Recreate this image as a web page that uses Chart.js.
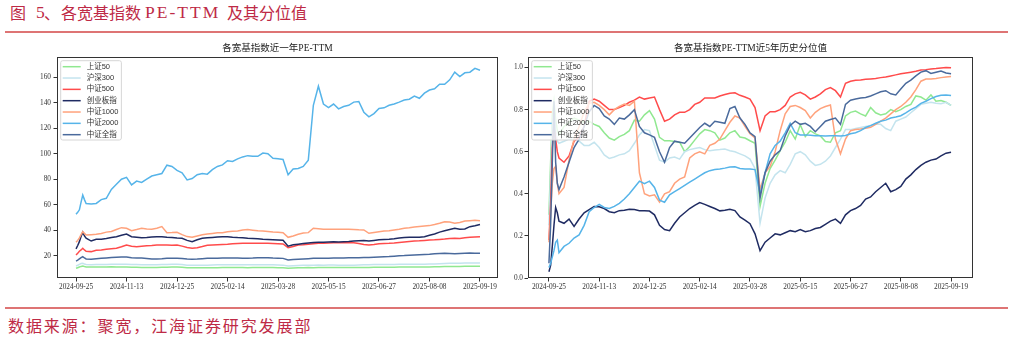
<!DOCTYPE html>
<html>
<head>
<meta charset="utf-8">
<script src="https://cdn.jsdelivr.net/npm/chart.js@4.4.1/dist/chart.umd.min.js"></script>
<style>
  body { margin: 0; background: #fff; width: 1013px; height: 339px; position: relative; overflow: hidden; }
  .hd span { position: absolute; top: 2px; line-height: 20px; font-size: 16px; color: #be2a46;
             font-family: "Noto Sans CJK SC", sans-serif; white-space: pre; }
  .hd .lat { font-family: "Liberation Serif", serif; font-size: 17.5px; letter-spacing: 2px; }
  .rule { position: absolute; left: 5px; width: 1003px; height: 2px; background: #de7474; }
  .box { position: absolute; top: 36px; height: 262px; }
  #src { position: absolute; left: 8px; top: 315px; line-height: 20px; font-size: 16px; letter-spacing: 1.9px;
         color: #be2a46; font-family: "Noto Sans CJK SC", sans-serif; white-space: pre; }
</style>
</head>
<body>
<div class="hd">
  <span style="left:10px">图</span><span class="lat" style="left:36px">5</span><span style="left:44px">、</span>
  <span style="left:61px">各宽基指数</span><span class="lat" style="left:145px">PE-TTM</span><span style="left:227px">及其分位值</span>
</div>
<div class="rule" style="top:31px"></div>
<div class="box" style="left:0;width:505px"><canvas id="peChart"></canvas></div>
<div class="box" style="left:505px;width:508px"><canvas id="pctChart"></canvas></div>
<div class="rule" style="top:307px"></div>
<div id="src">数据来源：聚宽，江海证券研究发展部</div>

<script>
const seriesNames = ['上证50', '沪深300', '中证500', '创业板指', '中证1000', '中证2000', '中证全指'];
const seriesColors = ['#90e890', '#c4e4ee', '#ff4b4b', '#1f2b62', '#ffa27c', '#56b4e9', '#4a6a9c'];

// trading-day index of each tick and its date label
const tickIdx = [0, 30, 60, 90, 120, 150, 180, 210, 240];
const tickDates = ['2024-09-25', '2024-11-13', '2024-12-25', '2025-02-14', '2025-03-28',
                   '2025-05-15', '2025-06-27', '2025-08-08', '2025-09-19'];

// trading-day index of each sample
const dayIdx = [0, 1, 2, 3, 4, 5, 6,
  9, 12, 15, 18, 21, 24, 27, 30, 33, 36,
  39, 42, 45, 48, 51, 54, 57, 60, 63, 66,
  69, 72, 75, 78, 81, 84, 87, 90, 93, 96,
  99, 102, 105, 108, 111, 114, 117, 120, 123, 126,
  129, 132, 135, 138, 141, 144, 147, 150, 153, 156,
  159, 162, 165, 168, 171, 174, 177, 180, 183, 186,
  189, 192, 195, 198, 201, 204, 207, 210, 213, 216,
  219, 222, 225, 228, 231, 234, 237, 240];

// PE-TTM, last year
const peSz50 = [10.1, 10.6, 11.1, 11.6, 11.9, 11.5, 11.2,
  11.1, 11.1, 11.2, 11.2, 11.3, 11.2, 11.2, 11.1, 10.9, 10.9,
  10.8, 10.7, 10.7, 10.8, 10.9, 11.0, 11.1, 11.1, 10.9, 10.6,
  10.5, 10.5, 10.5, 10.5, 10.5, 10.6, 10.7, 10.7, 10.8, 10.7,
  10.7, 10.6, 10.7, 10.8, 10.8, 10.7, 10.7, 10.6, 10.6, 10.1,
  10.4, 10.5, 10.6, 10.7, 10.6, 10.7, 10.7, 10.8, 10.7, 10.8,
  10.8, 10.7, 10.7, 10.7, 10.8, 10.8, 11.0, 11.0, 11.0, 11.0,
  11.0, 11.1, 11.1, 11.1, 11.1, 11.1, 11.2, 11.2, 11.3, 11.4,
  11.6, 11.6, 11.5, 11.6, 11.7, 11.8, 11.8, 11.8];
const peHs300 = [11.9, 12.5, 13.2, 13.8, 14.0, 13.5, 13.1,
  12.9, 13.0, 13.0, 13.1, 13.2, 13.2, 13.3, 13.3, 13.0, 13.0,
  12.9, 12.8, 12.8, 12.9, 13.0, 13.1, 13.2, 13.2, 13.0, 12.6,
  12.5, 12.5, 12.6, 12.6, 12.7, 12.8, 12.8, 12.9, 12.9, 12.9,
  12.8, 12.8, 12.9, 12.9, 12.9, 12.8, 12.8, 12.7, 12.6, 11.9,
  12.2, 12.4, 12.5, 12.6, 12.6, 12.7, 12.6, 12.7, 12.7, 12.6,
  12.6, 12.6, 12.6, 12.7, 12.8, 12.8, 13.0, 13.0, 13.0, 13.1,
  13.1, 13.2, 13.2, 13.2, 13.2, 13.2, 13.3, 13.4, 13.5, 13.7,
  13.9, 14.0, 14.0, 14.1, 14.2, 14.3, 14.3, 14.3];
const peZz500 = [20.6, 22.0, 23.5, 24.5, 25.8, 24.5, 23.5,
  23.2, 24.3, 24.5, 25.0, 25.5, 25.8, 27.0, 28.4, 27.5, 27.1,
  27.5, 27.8, 28.0, 28.4, 28.4, 28.3, 28.2, 28.4, 27.5, 26.5,
  25.8, 26.3, 27.2, 28.2, 28.4, 28.6, 28.8, 29.0, 29.3, 29.5,
  29.7, 29.7, 29.8, 29.7, 29.8, 29.7, 29.6, 29.4, 29.2, 26.3,
  27.2, 28.4, 28.6, 29.0, 29.4, 29.7, 29.8, 30.0, 30.1, 30.2,
  30.2, 30.2, 30.1, 29.5, 28.8, 28.4, 28.8, 29.3, 29.6, 29.7,
  30.0, 30.4, 30.8, 31.2, 31.5, 31.7, 32.0, 32.3, 32.5, 32.8,
  33.1, 33.5, 33.7, 33.5, 34.0, 34.4, 34.7, 34.9];
const peCyb = [25.3, 28.0, 31.0, 35.0, 38.4, 35.5, 33.7,
  31.5, 32.9, 33.0, 33.5, 34.2, 34.9, 36.0, 37.0, 34.9, 34.5,
  34.1, 34.3, 34.6, 34.9, 34.9, 34.5, 34.2, 33.9, 33.7, 32.0,
  31.0, 32.5, 33.7, 34.0, 34.3, 34.6, 34.9, 34.9, 34.5, 34.2,
  34.0, 33.7, 33.5, 33.2, 32.9, 32.7, 32.5, 32.3, 32.1, 27.5,
  28.5, 29.0, 29.5, 30.0, 30.3, 30.5, 30.5, 30.8, 31.0, 30.8,
  31.0, 31.2, 31.5, 31.8, 32.0, 31.5, 32.0, 32.5, 32.8, 33.0,
  33.3, 33.8, 34.2, 34.4, 34.4, 34.4, 34.8, 36.0, 37.0, 38.5,
  39.5, 40.5, 41.5, 40.8, 41.0, 42.8, 43.5, 44.5];
const peZz1000 = [30.5, 32.0, 34.0, 36.5, 38.8, 37.5, 36.2,
  36.5, 36.8, 37.5, 38.5, 39.0, 40.5, 42.0, 41.5, 39.6, 40.5,
  41.5, 41.0, 40.7, 41.5, 42.8, 38.1, 38.2, 38.4, 36.5, 35.0,
  34.4, 35.5, 36.5, 37.0, 37.5, 38.0, 38.1, 38.8, 39.2, 39.4,
  40.2, 40.5, 40.0, 39.5, 39.4, 39.0, 38.6, 38.4, 38.1, 34.4,
  35.5, 36.8, 37.8, 38.1, 41.5, 41.2, 40.8, 40.7, 40.7, 40.7,
  40.7, 40.7, 40.5, 40.3, 40.2, 37.6, 38.2, 38.8, 39.3, 39.6,
  40.2, 40.8, 41.5, 42.0, 42.6, 43.0, 43.3, 43.6, 44.5, 45.5,
  46.7, 46.5, 45.4, 46.0, 47.2, 47.5, 47.8, 47.5];
const peZz2000 = [52.5, 54.0, 56.0, 62.0, 67.5, 64.0, 61.0,
  60.5, 61.0, 64.0, 65.0, 72.0, 76.0, 80.0, 81.5, 75.5, 78.5,
  77.5, 80.0, 82.5, 83.5, 84.5, 91.0, 90.0, 87.0, 85.0, 79.5,
  80.5, 83.5, 84.5, 84.0, 87.5, 90.0, 91.2, 94.5, 94.0, 96.0,
  97.5, 98.5, 98.0, 98.0, 100.5, 100.0, 96.5, 96.0, 95.5, 83.5,
  88.0, 88.5, 90.0, 95.0, 138.0, 153.0, 139.0, 136.2, 139.0, 135.2,
  137.0, 138.0, 140.5, 141.0, 132.6, 129.0, 131.5, 135.5, 136.0, 138.0,
  139.0, 140.5, 142.2, 142.8, 145.3, 143.5, 147.5, 150.0, 151.0, 154.5,
  154.5, 158.0, 164.0, 160.5, 163.5, 164.0, 167.0, 165.5];
const peZzqz = [15.8, 16.5, 17.5, 18.5, 19.2, 18.2, 17.4,
  17.3, 17.6, 17.9, 18.2, 18.5, 18.7, 18.9, 19.0, 18.3, 18.2,
  18.1, 17.8, 17.5, 17.4, 17.6, 17.9, 18.0, 18.0, 17.8, 17.4,
  17.2, 17.4, 17.7, 17.9, 18.0, 18.0, 18.1, 18.2, 18.2, 18.1,
  18.0, 18.0, 18.1, 18.3, 18.4, 18.3, 18.1, 18.0, 17.9, 16.6,
  17.0, 17.3, 17.5, 17.7, 17.9, 18.0, 18.0, 18.0, 18.1, 18.1,
  18.2, 18.3, 18.3, 18.4, 18.5, 18.5, 18.7, 18.9, 19.1, 19.3,
  19.6, 19.9, 20.1, 20.4, 20.6, 20.8, 21.0, 21.2, 21.5, 21.7,
  21.9, 21.8, 21.6, 21.8, 22.0, 22.1, 22.0, 21.9];

// PE-TTM percentile over 5 years
const pctSz50 = [0.30, 0.55, 0.78, 0.84, 0.75, 0.70, 0.68,
  0.72, 0.74, 0.76, 0.75, 0.74, 0.745, 0.73, 0.72, 0.69, 0.665,
  0.655, 0.672, 0.682, 0.70, 0.75, 0.745, 0.775, 0.795, 0.755, 0.668,
  0.652, 0.652, 0.648, 0.645, 0.60, 0.625, 0.655, 0.685, 0.705, 0.70,
  0.69, 0.655, 0.665, 0.69, 0.70, 0.67, 0.665, 0.652, 0.64, 0.34,
  0.45, 0.52, 0.56, 0.605, 0.645, 0.70, 0.66, 0.728, 0.672, 0.70,
  0.685, 0.675, 0.648, 0.645, 0.69, 0.70, 0.77, 0.787, 0.793, 0.78,
  0.77, 0.81, 0.785, 0.775, 0.78, 0.80, 0.79, 0.80, 0.815, 0.825,
  0.865, 0.86, 0.845, 0.87, 0.84, 0.843, 0.835, 0.82];
const pctHs300 = [0.25, 0.50, 0.70, 0.80, 0.70, 0.65, 0.64,
  0.65, 0.66, 0.668, 0.65, 0.63, 0.63, 0.645, 0.62, 0.585, 0.568,
  0.575, 0.585, 0.59, 0.605, 0.64, 0.68, 0.705, 0.70, 0.63, 0.56,
  0.55, 0.57, 0.575, 0.565, 0.60, 0.61, 0.615, 0.62, 0.61, 0.605,
  0.608, 0.61, 0.613, 0.605, 0.60, 0.59, 0.58, 0.565, 0.52, 0.26,
  0.38, 0.45, 0.49, 0.51, 0.50, 0.54, 0.59, 0.60, 0.585, 0.555,
  0.535, 0.54, 0.555, 0.58, 0.62, 0.66, 0.705, 0.705, 0.71, 0.715,
  0.72, 0.725, 0.73, 0.73, 0.71, 0.70, 0.745, 0.755, 0.765, 0.785,
  0.805, 0.825, 0.83, 0.835, 0.83, 0.828, 0.835, 0.82];
const pctZz500 = [0.18, 0.35, 0.62, 0.72, 0.66, 0.60, 0.57,
  0.55, 0.58, 0.65, 0.67, 0.72, 0.84, 0.85, 0.84, 0.82, 0.80,
  0.80, 0.81, 0.82, 0.835, 0.845, 0.86, 0.85, 0.855, 0.86, 0.80,
  0.745, 0.755, 0.775, 0.787, 0.787, 0.80, 0.825, 0.835, 0.855, 0.855,
  0.855, 0.865, 0.872, 0.878, 0.88, 0.868, 0.86, 0.85, 0.81, 0.70,
  0.77, 0.79, 0.79, 0.80, 0.82, 0.86, 0.875, 0.882, 0.87, 0.85,
  0.86, 0.875, 0.895, 0.905, 0.89, 0.86, 0.925, 0.935, 0.94, 0.941,
  0.944, 0.946, 0.948, 0.952, 0.955, 0.96, 0.965, 0.97, 0.974, 0.978,
  0.982, 0.988, 0.99, 0.993, 0.995, 0.998, 1.0, 0.999];
const pctCyb = [0.03, 0.06, 0.15, 0.25, 0.335, 0.31, 0.27,
  0.26, 0.28, 0.245, 0.28, 0.31, 0.325, 0.34, 0.338, 0.33, 0.315,
  0.31, 0.32, 0.322, 0.327, 0.325, 0.32, 0.32, 0.318, 0.30, 0.25,
  0.23, 0.225, 0.26, 0.29, 0.31, 0.33, 0.345, 0.358, 0.35, 0.34,
  0.33, 0.319, 0.322, 0.327, 0.32, 0.29, 0.275, 0.258, 0.21, 0.13,
  0.17, 0.19, 0.21, 0.205, 0.215, 0.225, 0.22, 0.23, 0.22, 0.225,
  0.235, 0.24, 0.255, 0.27, 0.28, 0.26, 0.30, 0.32, 0.33, 0.345,
  0.375, 0.385, 0.41, 0.43, 0.45, 0.41, 0.42, 0.435, 0.47, 0.49,
  0.515, 0.535, 0.55, 0.56, 0.565, 0.58, 0.593, 0.597];
const pctZz1000 = [0.17, 0.30, 0.45, 0.52, 0.53, 0.45, 0.40,
  0.43, 0.56, 0.66, 0.72, 0.79, 0.83, 0.835, 0.82, 0.80, 0.775,
  0.80, 0.815, 0.827, 0.82, 0.84, 0.50, 0.40, 0.39, 0.395, 0.36,
  0.40, 0.41, 0.45, 0.47, 0.48, 0.57, 0.59, 0.60, 0.59, 0.63,
  0.64, 0.66, 0.70, 0.74, 0.77, 0.76, 0.72, 0.685, 0.665, 0.42,
  0.50, 0.53, 0.60, 0.70, 0.78, 0.815, 0.82, 0.81, 0.795, 0.76,
  0.787, 0.805, 0.815, 0.822, 0.66, 0.59, 0.66, 0.70, 0.705, 0.708,
  0.712, 0.716, 0.73, 0.745, 0.76, 0.78, 0.80, 0.815, 0.835, 0.86,
  0.895, 0.935, 0.945, 0.946, 0.948, 0.952, 0.955, 0.957];
const pctZz2000 = [0.05, 0.07, 0.10, 0.13, 0.17, 0.18, 0.12,
  0.15, 0.165, 0.19, 0.205, 0.25, 0.315, 0.335, 0.35, 0.335, 0.33,
  0.34, 0.355, 0.375, 0.40, 0.43, 0.46, 0.448, 0.46, 0.43, 0.37,
  0.36, 0.395, 0.41, 0.425, 0.44, 0.455, 0.47, 0.485, 0.50, 0.51,
  0.515, 0.518, 0.522, 0.527, 0.528, 0.52, 0.518, 0.518, 0.515, 0.40,
  0.50, 0.59, 0.63, 0.65, 0.69, 0.735, 0.69, 0.68, 0.68, 0.678,
  0.676, 0.676, 0.675, 0.676, 0.676, 0.675, 0.677, 0.685, 0.69, 0.70,
  0.715, 0.724, 0.735, 0.745, 0.75, 0.76, 0.765, 0.771, 0.785, 0.80,
  0.812, 0.83, 0.84, 0.852, 0.862, 0.868, 0.87, 0.867];
const pctZzqz = [0.07, 0.25, 0.55, 0.84, 0.55, 0.45, 0.42,
  0.48, 0.55, 0.62, 0.66, 0.72, 0.79, 0.82, 0.805, 0.77, 0.755,
  0.73, 0.76, 0.755, 0.775, 0.80, 0.72, 0.69, 0.68, 0.668, 0.60,
  0.55, 0.62, 0.65, 0.645, 0.64, 0.665, 0.69, 0.715, 0.735, 0.72,
  0.745, 0.74, 0.735, 0.805, 0.815, 0.76, 0.73, 0.69, 0.672, 0.38,
  0.50, 0.555, 0.585, 0.605, 0.675, 0.725, 0.745, 0.73, 0.735, 0.72,
  0.695, 0.72, 0.745, 0.753, 0.76, 0.73, 0.825, 0.845, 0.85, 0.855,
  0.858, 0.865, 0.875, 0.885, 0.89, 0.875, 0.87, 0.898, 0.925, 0.94,
  0.96, 0.978, 0.985, 0.972, 0.978, 0.983, 0.974, 0.97];

const serif = '"Liberation Serif", "Noto Sans CJK SC", serif';
const inkColor = '#333';

// full frame round the plot plus an inset legend box in the top-left corner
const axesBox = {
  id: 'axesBox',
  afterDatasetsDraw(chart) {
    const { ctx, chartArea: a } = chart;
    const sets = chart.data.datasets;
    ctx.save();
    ctx.font = '7.5px "Liberation Sans", "Noto Sans CJK SC", sans-serif';
    const textW = Math.max(...sets.map(d => ctx.measureText(d.label).width));
    const bx = a.left + 3.7, by = a.top + 3.7;
    const bw = 26 + textW + 3, bh = 79.3;
    ctx.beginPath();
    ctx.roundRect(bx, by, bw, bh, 2);
    ctx.fillStyle = 'rgba(255,255,255,0.8)';
    ctx.fill();
    ctx.strokeStyle = '#d6d6d6';
    ctx.lineWidth = 1;
    ctx.stroke();
    ctx.textBaseline = 'middle';
    sets.forEach((d, i) => {
      const y = by + 6 + i * 11.33;
      ctx.strokeStyle = d.borderColor;
      ctx.lineWidth = d.borderWidth;
      ctx.beginPath();
      ctx.moveTo(bx + 2, y);
      ctx.lineTo(bx + 20, y);
      ctx.stroke();
      ctx.fillStyle = inkColor;
      ctx.fillText(d.label, bx + 26, y);
    });
    ctx.strokeStyle = inkColor;
    ctx.lineWidth = 1;
    ctx.strokeRect(Math.round(a.left) + 0.5, Math.round(a.top) + 0.5,
                   Math.round(a.width) - 1, Math.round(a.height) - 1);
    ctx.restore();
  }
};

function buildChart(id, cfg) {
  const datasets = cfg.series.map((vals, i) => ({
    label: seriesNames[i],
    data: vals.map((v, j) => ({ x: dayIdx[j], y: v })),
    borderColor: seriesColors[i],
    backgroundColor: seriesColors[i],
    borderWidth: 1.5,
    pointRadius: 0,
    tension: 0,
    order: seriesNames.length - i
  }));
  const tickFont = { family: serif, size: 7.3 };
  return new Chart(document.getElementById(id), {
    type: 'line',
    data: { datasets },
    options: {
      responsive: true,
      maintainAspectRatio: false,
      animation: false,
      layout: { padding: { left: 0, right: cfg.padRight, top: 0, bottom: 0 } },
      plugins: {
        legend: { display: false },
        tooltip: { enabled: false },
        title: {
          display: true, text: cfg.title, fullSize: false, color: '#222',
          font: { family: serif, size: 9.5, weight: 'normal' },
          padding: { top: 7, bottom: 2.6 }
        }
      },
      scales: {
        x: {
          type: 'linear', min: cfg.xMin, max: cfg.xMax,
          afterBuildTicks: s => { s.ticks = tickIdx.map(v => ({ value: v })); },
          afterFit: s => { s.height = 20; },
          border: { display: false },
          grid: { drawOnChartArea: false, drawTicks: true, tickLength: 3.5, color: inkColor },
          ticks: {
            autoSkip: false, maxRotation: 0, padding: 1, color: inkColor, font: tickFont,
            callback: (v, i) => tickDates[i]
          }
        },
        y: {
          min: cfg.yMin, max: cfg.yMax,
          afterBuildTicks: s => { s.ticks = cfg.yTicks.map(v => ({ value: v })); },
          afterFit: s => { s.width = cfg.yWidth; },
          border: { display: false },
          grid: { drawOnChartArea: false, drawTicks: true, tickLength: 3.5, color: inkColor },
          ticks: { padding: cfg.yPad, color: inkColor, font: tickFont, callback: cfg.yFmt }
        }
      }
    },
    plugins: [axesBox]
  });
}

buildChart('peChart', {
  title: '各宽基指数近一年PE-TTM',
  series: [peSz50, peHs300, peZz500, peCyb, peZz1000, peZz2000, peZzqz],
  xMin: -11.3, xMax: 250.7,
  yMin: 2.5, yMax: 175.9,
  yTicks: [20, 40, 60, 80, 100, 120, 140, 160],
  yFmt: v => String(v),
  yWidth: 57, yPad: 2.5, padRight: 7
});

buildChart('pctChart', {
  title: '各宽基指数PE-TTM近5年历史分位值',
  series: [pctSz50, pctHs300, pctZz500, pctCyb, pctZz1000, pctZz2000, pctZzqz],
  xMin: -12.5, xMax: 253.1,
  yMin: 0, yMax: 1.05,
  yTicks: [0, 0.2, 0.4, 0.6, 0.8, 1.0],
  yFmt: v => v.toFixed(1),
  yWidth: 23, yPad: 1.5, padRight: 40
});
</script>
</body>
</html>
